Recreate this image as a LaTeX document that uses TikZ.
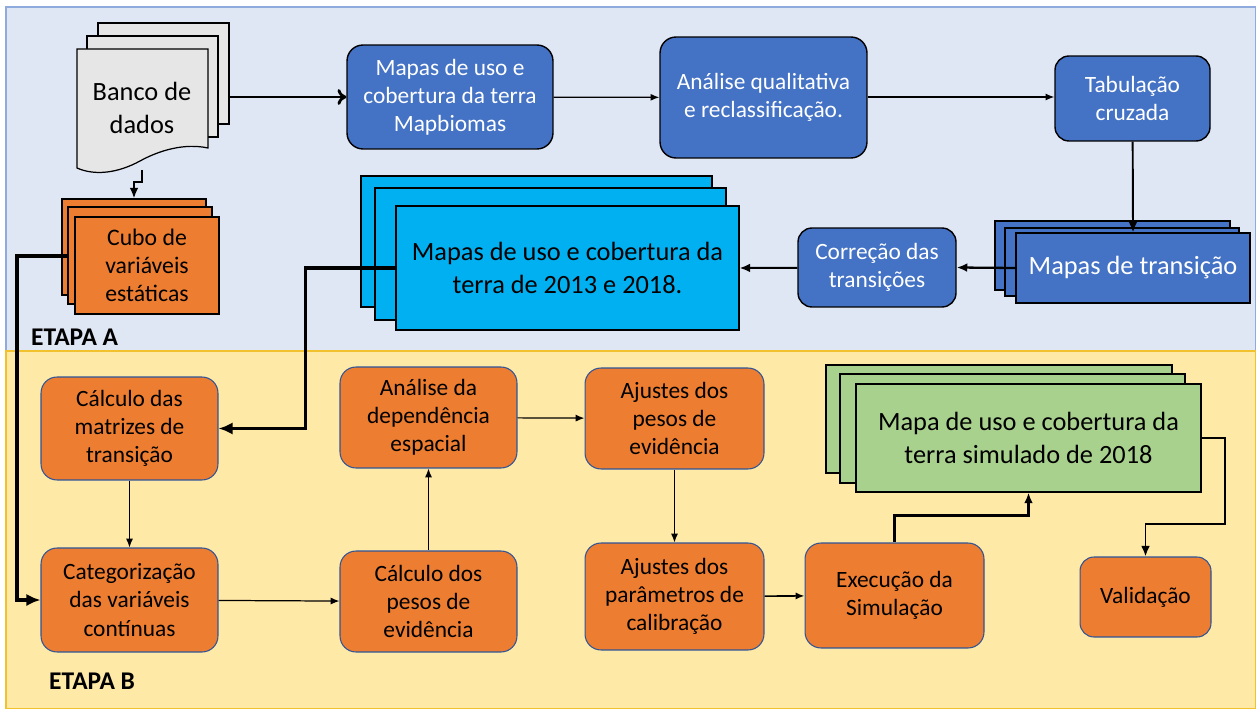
\documentclass[tikz,border=0pt]{standalone}
\usepackage{fontspec}
\setmainfont{Carlito}
\usetikzlibrary{arrows.meta}
\definecolor{panelblue}{HTML}{DFE6F4}
\definecolor{paneledgeblue}{HTML}{8FAADC}
\definecolor{panelyellow}{HTML}{FFE9A6}
\definecolor{paneledgeyellow}{HTML}{F2C12E}
\definecolor{boxblue}{HTML}{4472C4}
\definecolor{boxorange}{HTML}{ED7D31}
\definecolor{edgeblue}{HTML}{2F5597}
\definecolor{sheetcyan}{HTML}{00B0F0}
\definecolor{sheetgreen}{HTML}{A9D18E}
\definecolor{sheetgray}{HTML}{E7E6E6}
\begin{document}
\begin{tikzpicture}
[x=0.02cm,y=-0.02cm,
  bluebox/.style={shape=rectangle,rounded corners=0.32cm,draw=black,line width=0.8pt,
    fill=boxblue,text=white,align=center,font=\fontsize{13.3}{16}\selectfont},
  orangebox/.style={shape=rectangle,rounded corners=0.32cm,draw=edgeblue,line width=0.6pt,
    fill=boxorange,align=center,font=\fontsize{13.3}{16}\selectfont},
  sheet/.style={shape=rectangle,draw=black,line width=0.7pt,align=center},
  bigtext/.style={font=\fontsize{15}{18.5}\selectfont},
  arrowthin/.style={-{Latex[length=5pt,width=4pt]},line width=0.7pt},
  arrowthick/.style={-{Latex[length=6pt,width=5pt]},line width=1.3pt}]
\useasboundingbox (0,0) rectangle (1256,709);
% panels
\draw[fill=panelblue,draw=paneledgeblue,line width=0.8pt] (6,7) rectangle (1256,351);
\draw[fill=panelyellow,draw=paneledgeyellow,line width=0.8pt] (6,351) rectangle (1256,709);
\node[anchor=west,font=\fontsize{14.5}{17}\selectfont\bfseries] (etapaA) at (25,337) {ETAPA A};
\node[anchor=west,font=\fontsize{14.5}{17}\selectfont\bfseries] (etapaB) at (43,681) {ETAPA B};
% banco de dados
\draw[fill=sheetgray,line width=0.7pt] (98,23) rectangle (229,124);
\draw[fill=sheetgray,line width=0.7pt] (87,36) rectangle (218,137);
\draw[fill=sheetgray,line width=0.7pt] (77,49) -- (208,49) -- (208,148)
  .. controls (185,143) and (160,150) .. (140,161)
  .. controls (118,173) and (95,176) .. (77,168) -- cycle;
\node[bigtext,align=center] (banco) at (142,108) {Banco de\\dados};
\coordinate (bancoE) at (229,97);
\coordinate (bancoS) at (142,170);
% cubo
\node (cubo3) at (134,247) [sheet,fill=boxorange,minimum width=2.88cm,minimum height=1.92cm] {};
\node (cubo2) at (140,255.5) [sheet,fill=boxorange,minimum width=2.88cm,minimum height=1.94cm] {};
\node (cubo) at (147,265.5) [sheet,fill=boxorange,minimum width=2.88cm,minimum height=1.94cm,
  font=\fontsize{13.5}{16}\selectfont] {Cubo de\\variáveis\\estáticas};
\coordinate (cuboW) at (68,256);
% etapa A boxes
\node (mapb) at (450,97) [bluebox,minimum width=4.12cm,minimum height=2.08cm]
  {Mapas de uso e\\cobertura da terra\\Mapbiomas};
\node (analq) at (763.5,97.5) [bluebox,minimum width=4.14cm,minimum height=2.42cm]
  {Análise qualitativa\\e reclassificação.};
\node (tabc) at (1132.5,98.5) [bluebox,rounded corners=0.28cm,minimum width=3.1cm,minimum height=1.7cm]
  {Tabulação\\cruzada};
\node (mt3) at (1112.5,255.5) [sheet,fill=boxblue,minimum width=4.7cm,minimum height=1.38cm] {};
\node (mt2) at (1122,262) [sheet,fill=boxblue,minimum width=4.68cm,minimum height=1.36cm] {};
\node (mt) at (1133,268) [sheet,fill=boxblue,text=white,bigtext,minimum width=4.68cm,minimum height=1.4cm]
  {Mapas de transição};
\node (corr) at (877,267.5) [bluebox,rounded corners=0.28cm,minimum width=3.16cm,minimum height=1.58cm]
  {Correção das\\transições};
\node (bs3) at (536.5,241.5) [sheet,fill=sheetcyan,minimum width=7.02cm,minimum height=2.62cm] {};
\node (bs2) at (550.5,254) [sheet,fill=sheetcyan,minimum width=7.02cm,minimum height=2.64cm] {};
\node (bs) at (567.5,268) [sheet,fill=sheetcyan,bigtext,minimum width=6.86cm,minimum height=2.48cm]
  {Mapas de uso e cobertura da\\terra de 2013 e 2018.};
% etapa B boxes
\node (calcm) at (129.5,428.5) [orangebox,minimum width=3.54cm,minimum height=2.06cm]
  {Cálculo das\\matrizes de\\transição};
\node (categ) at (129.5,600) [orangebox,minimum width=3.54cm,minimum height=2.08cm]
  {Categorização\\das variáveis\\contínuas};
\node (anadep) at (428.5,417.5) [orangebox,minimum width=3.54cm,minimum height=2.02cm]
  {Análise da\\dependência\\espacial};
\node (calcp) at (428.5,601.5) [orangebox,minimum width=3.54cm,minimum height=2.02cm]
  {Cálculo dos\\pesos de\\evidência};
\node (ajpesos) at (674.5,418.5) [orangebox,minimum width=3.58cm,minimum height=2.02cm]
  {Ajustes dos\\pesos de\\evidência};
\node (ajpar) at (674.5,596.5) [orangebox,minimum width=3.58cm,minimum height=2.14cm]
  {Ajustes dos\\parâmetros de\\calibração};
\node (exec) at (894.5,595.5) [orangebox,minimum width=3.58cm,minimum height=2.1cm]
  {Execução da\\Simulação};
\node (valid) at (1145.5,597) [orangebox,rounded corners=0.28cm,minimum width=2.62cm,minimum height=1.6cm]
  {Validação};
\node (gm3) at (999,419) [sheet,fill=sheetgreen,minimum width=6.92cm,minimum height=2.16cm] {};
\node (gm2) at (1012.5,428.5) [sheet,fill=sheetgreen,minimum width=6.9cm,minimum height=2.18cm] {};
\node (gm) at (1028.5,438) [sheet,fill=sheetgreen,bigtext,minimum width=6.9cm,minimum height=2.16cm]
  {Mapa de uso e cobertura da\\terra simulado de 2018};
% edges
\draw[-{To[length=5pt,width=9pt]},line width=1.6pt] (bancoE) -- (mapb.west);
\draw[arrowthick,line width=1.1pt] (bancoS) -- ++(0,12) -| (cubo3.north);
\draw[arrowthin] (mapb) -- (analq);
\draw[arrowthin] (analq.east |- mapb) -- (tabc.west |- mapb);
\draw[arrowthick,line width=1.1pt] (tabc) -- (mt.north);
\draw[arrowthick] (mt.west) -- (corr.east);
\draw[arrowthick,line width=1.1pt] (corr) -- (bs.east);
\draw[-{Latex[length=8pt,width=7pt]},line width=1.8pt] (bs.west) -- ++(-90,0) |- (calcm.east);
\draw[-{Latex[length=8pt,width=7pt]},line width=1.9pt] (cuboW) -- ++(-51,0) |- (categ.west);
\draw[arrowthin] (calcm) -- (categ);
\draw[arrowthin] (categ) -- (calcp);
\draw[arrowthin] (calcp) -- (anadep);
\draw[arrowthin] (anadep) -- (ajpesos);
\draw[arrowthin] (ajpesos) -- (ajpar);
\draw[arrowthin,line width=0.9pt] (ajpar) -- (exec);
\draw[arrowthick] (exec.north) -- ++(0,-27) -| (gm.south);
\draw[arrowthick,line width=1.1pt] (gm.east) -- ++(23,0) -- ++(0,86) -| (valid.north);
\end{tikzpicture}
\end{document}
